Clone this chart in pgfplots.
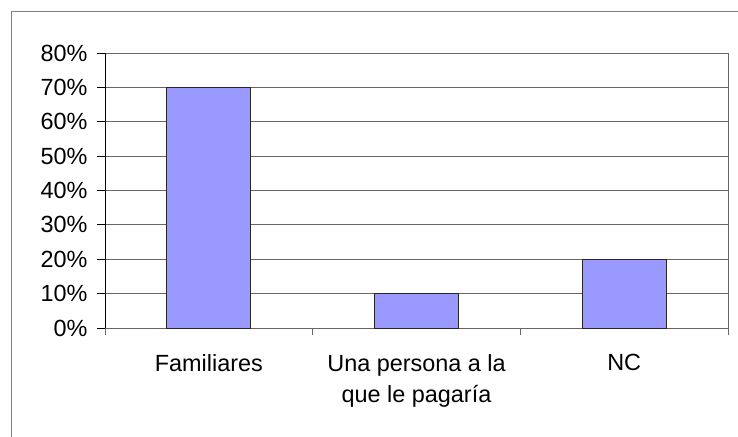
\documentclass[border=0pt]{standalone}
\usepackage{pgfplots}
\pgfplotsset{compat=1.18}
\usepackage{fontspec}
\setmainfont{Liberation Sans}
\definecolor{barfill}{HTML}{9999FF}
\definecolor{gridc}{HTML}{666666}
\definecolor{framec}{HTML}{808080}
\begin{document}
\begin{tikzpicture}[x=1bp,y=1bp]
\path[use as bounding box] (0,0) rectangle (738,437);
\draw[framec, line width=1bp] (11,0) -- (11,425) -- (738,425);
\begin{axis}[
  at={(105bp,109bp)}, anchor=south west,
  scale only axis, width=623bp, height=275bp,
  xmin=-0.5, xmax=2.5, ymin=0, ymax=80,
  axis x line*=bottom, axis y line*=left,
  x axis line style={gridc, line width=0.8bp, -},
  y axis line style={black, line width=0.8bp, -},
  ytick={0,10,...,80},
  yticklabels={0\%,10\%,20\%,30\%,40\%,50\%,60\%,70\%,80\%},
  ymajorgrids, grid style={gridc, line width=0.8bp},
  xtick={0,1,2},
  xticklabels={Familiares,{Una persona a la\\que le pagaría},NC},
  minor xtick={-0.5,0.5,1.5,2.5},
  x tick style={draw=none},
  minor x tick style={draw=gridc, line width=0.8bp},
  y tick style={black, line width=0.8bp},
  tick align=outside,
  major tick length=8bp, minor tick length=7bp,
  ticklabel style={font=\fontsize{23.5}{31}\selectfont},
  xticklabel style={align=center, yshift=-15bp},
  yticklabel style={xshift=-6bp},
  /pgf/number format/assume math mode=true,
  ybar, bar width=84bp,
  clip=false,
]
\addplot[fill=barfill, draw=black!85, line width=0.8bp] coordinates {(0,70) (1,10) (2,20)};
\draw[gridc, line width=0.8bp] (rel axis cs:1,0) -- (rel axis cs:1,1);
\end{axis}
\end{tikzpicture}
\end{document}
